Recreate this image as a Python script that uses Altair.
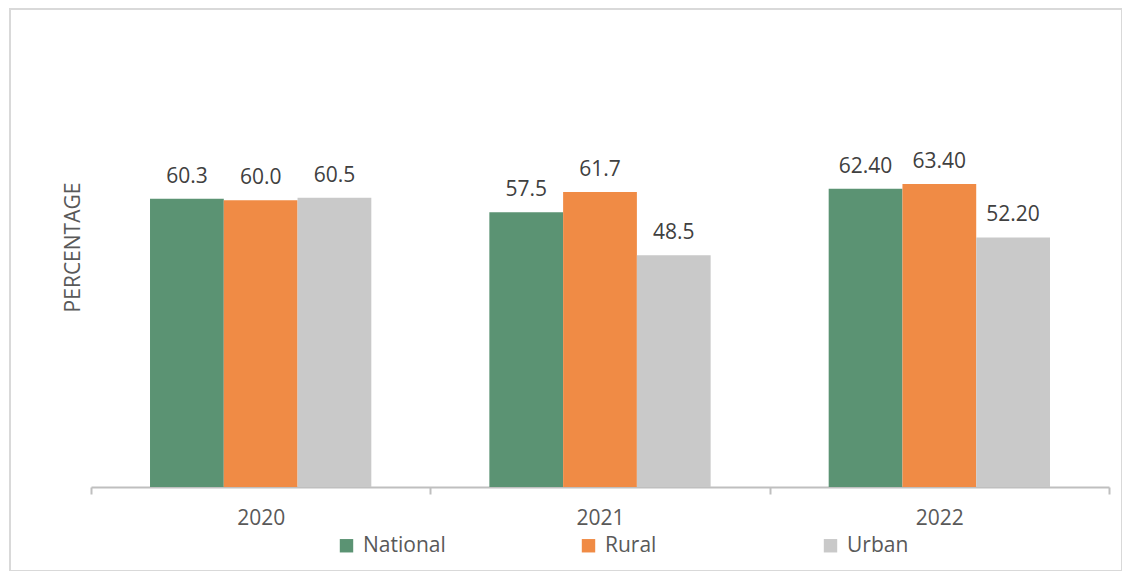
import altair as alt
import pandas as pd

years = ["2020", "2021", "2022"]
series = ["National", "Rural", "Urban"]
national = [60.3, 57.5, 62.4]
rural = [60.0, 61.7, 63.4]
urban = [60.5, 48.5, 52.2]
national_labels = ["60.3", "57.5", "62.40"]
rural_labels = ["60.0", "61.7", "63.40"]
urban_labels = ["60.5", "48.5", "52.20"]
colors = ["#5b9373", "#f08b45", "#c9c9c9"]

rows = []
for name, vals, labs in [("National", national, national_labels),
                         ("Rural", rural, rural_labels),
                         ("Urban", urban, urban_labels)]:
    for yr, v, lab in zip(years, vals, labs):
        rows.append({"year": yr, "series": name, "value": v, "label": lab})
df = pd.DataFrame(rows)

W = 1112
H = 562
AXIS_Y = 478  # pixel position of zero inside plot
ymin = -100 * (H - AXIS_Y) / AXIS_Y

FONT = "Open Sans"
TXT = "#595959"

x = alt.X("year:N", sort=years,
          scale=alt.Scale(range=[81, 1099], paddingInner=0, paddingOuter=0),
          axis=alt.Axis(title=None, labelAngle=0, labelFontSize=21, labelColor=TXT,
                        labelFont=FONT, labelPadding=13, tickSize=7, tickWidth=2,
                        tickColor="#bfbfbf", domainColor="#bfbfbf", domainWidth=2,
                        tickBand="extent", offset=-(H - AXIS_Y), grid=False))
xo = alt.XOffset("series:N", sort=series,
                 scale=alt.Scale(paddingInner=0, paddingOuter=0.8))
y = alt.Y("value:Q", scale=alt.Scale(domain=[ymin, 100], zero=False, nice=False),
          axis=alt.Axis(title="PERCENTAGE", labels=False, ticks=False, domain=False,
                        grid=False, titleX=63, titleY=238, titleAngle=270,
                        titleAlign="center", titleBaseline="middle",
                        titleFontSize=21, titleFont=FONT, titleColor=TXT,
                        titleFontWeight="normal"))

color = alt.Color("series:N", sort=series,
                  scale=alt.Scale(domain=series, range=colors),
                  legend=alt.Legend(title=None, orient="none", legendX=326, legendY=526,
                                    direction="horizontal", columns=3, gridAlign="all",
                                    columnPadding=132, symbolType="square",
                                    symbolSize=180, symbolStrokeWidth=0,
                                    labelFontSize=21, labelFont=FONT, labelColor=TXT,
                                    labelOffset=6, padding=0))

bars = alt.Chart(df).mark_bar().encode(x=x, xOffset=xo, y=y, y2=alt.datum(0), color=color)

text = alt.Chart(df).mark_text(baseline="alphabetic", dy=-16, fontSize=21,
                               font=FONT, color="#404040").encode(
    x=x, xOffset=xo, y=y, text="label:N")

chart = alt.layer(bars, text).properties(
    width=W, height=H,
    padding={"left": 2, "top": 1, "right": 0, "bottom": 0},
).configure_view(stroke="#d9d9d9", strokeWidth=2)

chart.save("out.html", embed_options={"renderer": "svg", "actions": False})
